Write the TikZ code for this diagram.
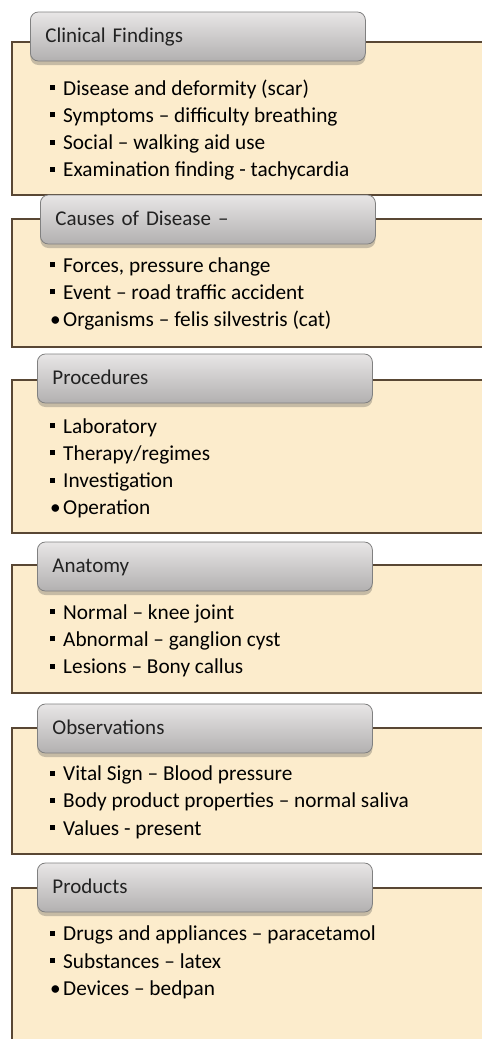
\documentclass[tikz,border=0pt]{standalone}
\usepackage{fontspec}
\setmainfont{Carlito}
\usetikzlibrary{shadows}
\definecolor{cream}{RGB}{252,236,204}
\definecolor{panelbrown}{RGB}{89,71,52}
\definecolor{tabedge}{RGB}{128,128,128}
\definecolor{tabtop}{RGB}{232,230,230}
\definecolor{tabbot}{RGB}{178,176,176}
\definecolor{tabtext}{RGB}{34,34,34}
\newcommand{\sqb}{\makebox[13pt][l]{\rule[5pt]{5pt}{5pt}}}
\newcommand{\rdb}{\makebox[13pt][l]{•}}

\begin{document}
\begin{tikzpicture}[
	x={(1pt,0pt)},
	y={(0pt,-1pt)},
	font=\fontsize{21}{25}\selectfont,
	panel/.style={draw=panelbrown, line width=2pt, fill=cream},
	tab/.style={draw=tabedge, line width=0.8pt, rounded corners=8pt, top color=tabtop, bottom color=tabbot,
		anchor=west, minimum height=49pt, text width=305pt, inner xsep=15pt, inner ysep=0pt,
		text height=16pt, text depth=4pt, align=left, text=tabtext,
		drop shadow={shadow xshift=0pt, shadow yshift=-4pt, opacity=0.3, fill=black!70}},
	item/.style={anchor=base west, inner sep=0pt, font=\fontsize{21.3}{25}\selectfont}
	]
	
	\useasboundingbox (0,0) rectangle (482,1039);
	\clip (0,0) rectangle (482,1039);
	
	% ==================================================
	% Clinical findings
	% ==================================================
	\begin{scope}[shift={(0,42)}]
		\draw[panel] (12,0) rectangle (495,153);
		\node[tab] (clin) at (30,-5.5) {Clinical Findings};
		\node[item] (clin1) at (50,53) {\sqb Disease and deformity (scar)};
		\node[item] (clin2) at (50,80.3) {\sqb Symptoms -- difficulty breathing};
		\node[item] (clin3) at (50,107.6) {\sqb Social -- walking aid use};
		\node[item] (clin4) at (50,134.9) {\sqb Examination finding - tachycardia};
	\end{scope}
	
	% ==================================================
	% Causes of disease
	% ==================================================
	\begin{scope}[shift={(0,219)}]
		\draw[panel] (12,0) rectangle (495,128);
		\node[tab] (cause) at (40,0.5) {Causes of Disease --};
		\node[item] (cause1) at (50,53) {\sqb Forces, pressure change};
		\node[item] (cause2) at (50,80.3) {\sqb Event -- road traffic accident};
		\node[item] (cause3) at (50,107.6) {\rdb Organisms -- felis silvestris (cat)};
	\end{scope}
	
	% ==================================================
	% Procedures
	% ==================================================
	\begin{scope}[shift={(0,380)}]
		\draw[panel] (12,0) rectangle (495,153);
		\node[tab] (proc) at (37,-1.5) {Procedures};
		\node[item] (proc1) at (50,53) {\sqb Laboratory};
		\node[item] (proc2) at (50,80.3) {\sqb Therapy/regimes};
		\node[item] (proc3) at (50,107.6) {\sqb Investigation};
		\node[item] (proc4) at (50,134.9) {\rdb Operation};
	\end{scope}
	
	% ==================================================
	% Anatomy
	% ==================================================
	\begin{scope}[shift={(0,565)}]
		\draw[panel] (12,0) rectangle (495,128);
		\node[tab] (anat) at (37,1.5) {Anatomy};
		\node[item] (anat1) at (50,54) {\sqb Normal -- knee joint};
		\node[item] (anat2) at (50,81.3) {\sqb Abnormal -- ganglion cyst};
		\node[item] (anat3) at (50,108.6) {\sqb Lesions -- Bony callus};
	\end{scope}
	
	% ==================================================
	% Observations
	% ==================================================
	\begin{scope}[shift={(0,728)}]
		\draw[panel] (12,0) rectangle (495,126);
		\node[tab] (obs) at (37,0.5) {Observations};
		\node[item] (obs1) at (50,52.5) {\sqb Vital Sign -- Blood pressure};
		\node[item] (obs2) at (50,79.8) {\sqb Body product properties -- normal saliva};
		\node[item] (obs3) at (50,107.1) {\sqb Values - present};
	\end{scope}
	
	% ==================================================
	% Products
	% ==================================================
	\begin{scope}[shift={(0,888)}]
		\draw[panel] (12,0) rectangle (495,170);
		\node[tab] (prod) at (37,-0.5) {Products};
		\node[item] (prod1) at (50,52.7) {\sqb Drugs and appliances -- paracetamol};
		\node[item] (prod2) at (50,80) {\sqb Substances -- latex};
		\node[item] (prod3) at (50,107.3) {\rdb Devices -- bedpan};
	\end{scope}
	
\end{tikzpicture}
\end{document}
